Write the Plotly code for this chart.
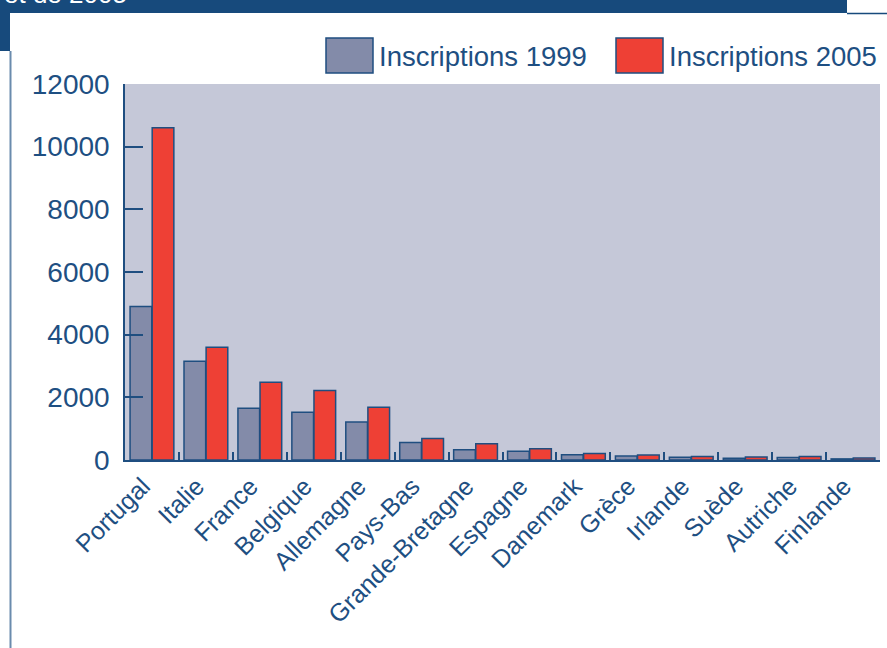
import plotly.graph_objects as go

countries = ["Portugal", "Italie", "France", "Belgique", "Allemagne", "Pays-Bas",
             "Grande-Bretagne", "Espagne", "Danemark", "Grèce", "Irlande", "Suède",
             "Autriche", "Finlande"]
inscr_1999 = [4900, 3150, 1650, 1520, 1210, 560, 330, 280, 170, 125, 90, 55, 80, 35]
inscr_2005 = [10600, 3600, 2480, 2220, 1680, 690, 520, 360, 210, 160, 115, 95, 110, 65]
series_names = ["Inscriptions 1999", "Inscriptions 2005"]
title_text = "et de 2005"

W, H = 887, 648
L, R, T, B = 125, 7, 84, 188
PW = W - L - R
PH = H - T - B

def px(x):
    return (x - L) / PW

def py(y):
    return (H - B - y) / PH

DARK = "#174a7c"
TXT = "#1e4f82"
EDGE = "#1f4e80"
C1999 = "#838ba9"
C2005 = "#ee4035"
BG = "#c5c8d8"
FONT = "Liberation Sans, Arial, sans-serif"

fig = go.Figure()
fig.add_trace(go.Bar(x=countries, y=inscr_1999, name=series_names[0],
                     marker=dict(color=C1999, line=dict(color=EDGE, width=1.5))))
fig.add_trace(go.Bar(x=countries, y=inscr_2005, name=series_names[1],
                     marker=dict(color=C2005, line=dict(color=EDGE, width=1.5))))

shapes = [
    # header band
    dict(type="rect", xref="paper", yref="paper", x0=px(-2), x1=px(847), y0=py(13), y1=py(-5),
         fillcolor=DARK, line=dict(width=0), layer="below"),
    # thin line right of header
    dict(type="line", xref="paper", yref="paper", x0=px(847), x1=px(890), y0=py(13.5), y1=py(13.5),
         line=dict(color=DARK, width=1.5)),
    # left dark strip
    dict(type="rect", xref="paper", yref="paper", x0=px(-5), x1=px(10), y0=py(51), y1=py(0),
         fillcolor=DARK, line=dict(width=0), layer="below"),
    # thin vertical line on left
    dict(type="line", xref="paper", yref="paper", x0=px(10.5), x1=px(10.5), y0=py(51), y1=py(660),
         line=dict(color="#6a8bad", width=2)),
    # legend swatches
    dict(type="rect", xref="paper", yref="paper", x0=px(326), x1=px(373), y0=py(73), y1=py(38),
         fillcolor=C1999, line=dict(color=EDGE, width=1.5)),
    dict(type="rect", xref="paper", yref="paper", x0=px(616), x1=px(663), y0=py(73), y1=py(38),
         fillcolor=C2005, line=dict(color=EDGE, width=1.5)),
]

annotations = [
    dict(text=title_text, xref="paper", yref="paper", x=px(2), y=py(11), xanchor="left",
         yanchor="bottom", showarrow=False, font=dict(color="white", size=26, family=FONT)),
    dict(text=series_names[0], xref="paper", yref="paper", x=px(377), y=py(57), xanchor="left",
         yanchor="middle", showarrow=False, font=dict(color=TXT, size=27.5, family=FONT)),
    dict(text=series_names[1], xref="paper", yref="paper", x=px(667), y=py(57), xanchor="left",
         yanchor="middle", showarrow=False, font=dict(color=TXT, size=27.5, family=FONT)),
]

fig.update_layout(
    width=W, height=H,
    margin=dict(l=L, r=R, t=T, b=B, autoexpand=False),
    paper_bgcolor="white",
    plot_bgcolor=BG,
    barmode="group",
    bargap=0.18,
    bargroupgap=0.02,
    showlegend=False,
    shapes=shapes,
    annotations=annotations,
    font=dict(family=FONT, color=TXT),
)
fig.update_yaxes(range=[0, 12000], dtick=2000, tickformat="d", showgrid=False, zeroline=False,
                 showline=True, linecolor=EDGE, linewidth=1.5,
                 ticks="inside", ticklen=18, tickcolor=EDGE, tickwidth=1.5,
                 tickfont=dict(size=28, color=TXT, family=FONT), ticklabelstandoff=8)
fig.update_xaxes(showgrid=False, showline=True, linecolor=EDGE, linewidth=1.5,
                 ticks="inside", tickson="boundaries", ticklen=8, tickcolor=EDGE, tickwidth=1.5,
                 tickangle=-45, ticklabelshift=-9,
                 tickfont=dict(size=25, color=TXT, family=FONT))

fig.write_html("out.html", config={"displayModeBar": False},
               post_script="document.body.style.margin='0';document.body.style.overflow='hidden';")
